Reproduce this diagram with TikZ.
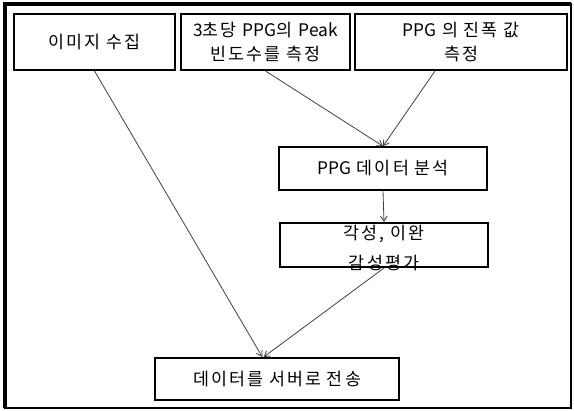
\documentclass[tikz,border=0pt]{standalone}
\usepackage{fontspec}
\setmainfont[LetterSpace=12]{Noto Sans CJK KR}
\newfontfamily\lat{Noto Sans CJK KR}
\usetikzlibrary{arrows.meta}

\begin{document}
\begin{tikzpicture}[
    x=0.75pt, y=-0.75pt,
    every node/.style={font=\fontsize{13}{18}\selectfont, align=center},
    box/.style={draw, line width=1.5pt, inner sep=0pt},
    arrow/.style={-{Straight Barb[length=4pt, width=5pt]}, draw=black!75, line width=0.6pt}
]
\useasboundingbox (0,0) rectangle (574,410);

% Frame
\draw[line width=1.3pt] (5,4) rectangle (571,408);
\draw[line width=2.6pt] (5,408) -- (5,4) -- (571,4);

% Nodes
\node[box, minimum width=121pt, minimum height=42pt] (collect) at (94.5,42) {이미지 수집};
\node[box, minimum width=127pt, minimum height=42pt] (peak) at (265.5,42) {{\lat 3}초당 {\lat PPG}의 {\lat Peak}\\빈도수를 측정};
\node[box, minimum width=159pt, minimum height=42pt] (amp) at (461,42) {{\lat PPG} 의 진폭 값\\측정};
\node[box, minimum width=156pt, minimum height=32pt] (analyze) at (383,168.5) {{\lat PPG} 데이터 분석};
\node[box, minimum width=156pt, minimum height=33pt] (arousal) at (384,245) {};
\node[font=\fontsize{13}{22}\selectfont] (arousaltext) at (384,248) {각성, 이완\\감성평가};
\node[box, minimum width=183pt, minimum height=31.5pt] (send) at (277,379) {데이터를 서버로 전송};

% Arrows
\draw[arrow] (collect.south) -- ([xshift=-11pt]send.north);
\draw[arrow] (peak.south) -- (analyze.north);
\draw[arrow] ([xshift=-19.5pt]amp.south) -- (analyze.north);
\draw[arrow] (analyze.south) -- (arousal.north);
\draw[arrow] (arousal.south) -- ([xshift=-10pt]send.north);

\end{tikzpicture}
\end{document}
